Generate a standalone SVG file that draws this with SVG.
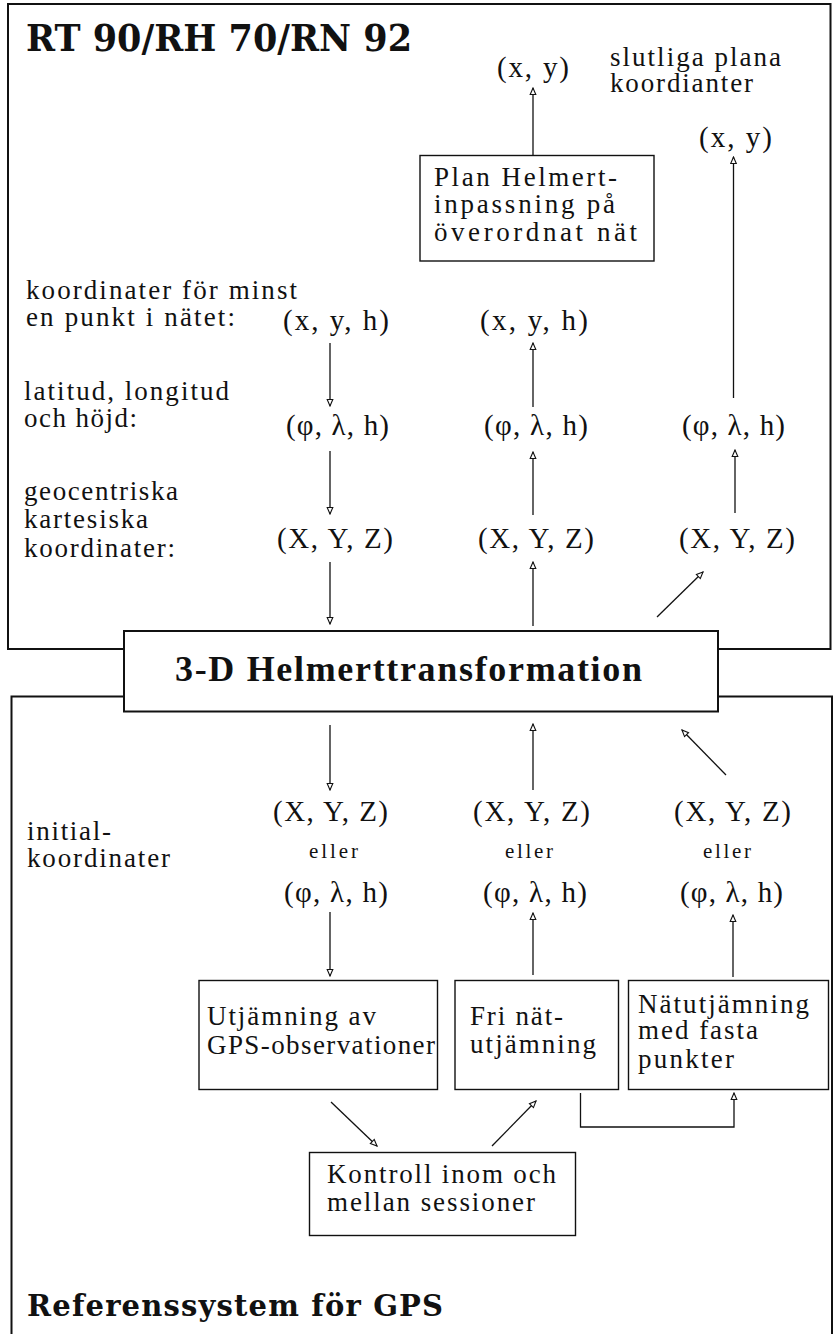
<svg xmlns="http://www.w3.org/2000/svg" width="834" height="1334" viewBox="0 0 834 1334">
  <style>
    .frame { fill: none; stroke: #111; stroke-width: 2; }
    .box { fill: #fff; stroke: #111; stroke-width: 1.4; }
    .hbox { fill: #fff; stroke: #111; stroke-width: 2; }
    .t { font-family: "Liberation Serif", "DejaVu Serif", serif; font-size: 27px; fill: #111; }
    .tup { font-family: "Liberation Serif", "DejaVu Serif", serif; font-size: 29px; fill: #111; }
    .small { font-family: "Liberation Serif", "DejaVu Serif", serif; font-size: 21px; fill: #111; }
    .title { font-family: "DejaVu Serif", "Liberation Serif", serif; font-weight: bold; font-size: 37px; fill: #111; }
    .htitle { font-family: "Liberation Serif", "DejaVu Serif", serif; font-weight: bold; font-size: 36px; fill: #111; }
    .gtitle { font-family: "DejaVu Serif", "Liberation Serif", serif; font-weight: bold; font-size: 29px; fill: #111; }
    .conn { fill: none; stroke: #111; stroke-width: 1.3; marker-end: url(#arrow); }
  </style>
  <defs>
    <marker id="arrow" viewBox="-8 -4 9 8" refX="0" refY="0" markerWidth="9" markerHeight="8" markerUnits="userSpaceOnUse" orient="auto">
      <path d="M0,0 L-6.5,-2.8 L-6.5,2.8 Z" fill="#fff" stroke="#111" stroke-width="1.1" stroke-linejoin="miter"/>
    </marker>
  </defs>

  <!-- outer frames -->
  <g id="frame-rt90">
    <rect class="frame" x="8" y="4" width="822.5" height="645"/>
    <text class="title" x="26" y="51" textLength="386" lengthAdjust="spacingAndGlyphs">RT 90/RH 70/RN 92</text>
  </g>
  <g id="frame-gps">
    <path class="frame" d="M11.5,1340 V696.5 H832 V1340"/>
    <text class="gtitle" x="27" y="1316" textLength="416" lengthAdjust="spacing">Referenssystem för GPS</text>
  </g>

  <!-- upper side labels -->
  <g id="label-slutliga">
    <text class="t" x="610" y="66" textLength="171" lengthAdjust="spacing">slutliga plana</text>
    <text class="t" x="610" y="92" textLength="143" lengthAdjust="spacing">koordianter</text>
  </g>
  <g id="label-minst">
    <text class="t" x="26" y="299" textLength="271" lengthAdjust="spacing">koordinater för minst</text>
    <text class="t" x="26" y="325.5" textLength="209" lengthAdjust="spacing">en punkt i nätet:</text>
  </g>
  <g id="label-latlong">
    <text class="t" x="24" y="400" textLength="205" lengthAdjust="spacing">latitud, longitud</text>
    <text class="t" x="24" y="426.5" textLength="113" lengthAdjust="spacing">och höjd:</text>
  </g>
  <g id="label-geocentr">
    <text class="t" x="24" y="500" textLength="154" lengthAdjust="spacing">geocentriska</text>
    <text class="t" x="24" y="528" textLength="124" lengthAdjust="spacing">kartesiska</text>
    <text class="t" x="24" y="556.5" textLength="151" lengthAdjust="spacing">koordinater:</text>
  </g>

  <!-- upper coordinate nodes -->
  <g id="xy-1"><text class="tup" x="497" y="77" textLength="72" lengthAdjust="spacing">(x, y)</text></g>
  <g id="xy-2"><text class="tup" x="699" y="147" textLength="73" lengthAdjust="spacing">(x, y)</text></g>
  <g id="plan-helmert">
    <rect class="box" x="420" y="155.5" width="234" height="105.5"/>
    <text class="t" x="434" y="185.5" textLength="183" lengthAdjust="spacing">Plan Helmert-</text>
    <text class="t" x="434" y="213" textLength="181" lengthAdjust="spacing">inpassning på</text>
    <text class="t" x="434" y="240.5" textLength="203" lengthAdjust="spacing">överordnat nät</text>
  </g>
  <g id="xyh-1"><text class="tup" x="283" y="330" textLength="106" lengthAdjust="spacing">(x, y, h)</text></g>
  <g id="xyh-2"><text class="tup" x="480" y="330" textLength="108" lengthAdjust="spacing">(x, y, h)</text></g>
  <g id="plh-1"><text class="tup" x="286" y="435" textLength="103" lengthAdjust="spacing">(φ, λ, h)</text></g>
  <g id="plh-2"><text class="tup" x="484" y="435" textLength="104" lengthAdjust="spacing">(φ, λ, h)</text></g>
  <g id="plh-3"><text class="tup" x="682" y="435" textLength="103" lengthAdjust="spacing">(φ, λ, h)</text></g>
  <g id="xyz-1"><text class="tup" x="277" y="548" textLength="116" lengthAdjust="spacing">(X, Y, Z)</text></g>
  <g id="xyz-2"><text class="tup" x="478" y="548" textLength="116" lengthAdjust="spacing">(X, Y, Z)</text></g>
  <g id="xyz-3"><text class="tup" x="679" y="548" textLength="116" lengthAdjust="spacing">(X, Y, Z)</text></g>

  <!-- central transformation -->
  <g id="helmert-3d">
    <rect class="hbox" x="124" y="631" width="594" height="80.5"/>
    <text class="htitle" x="175" y="681" textLength="467" lengthAdjust="spacing">3-D Helmerttransformation</text>
  </g>

  <!-- lower side label -->
  <g id="label-initial">
    <text class="t" x="27" y="840" textLength="84" lengthAdjust="spacing">initial-</text>
    <text class="t" x="27" y="866.5" textLength="143" lengthAdjust="spacing">koordinater</text>
  </g>

  <!-- initial coordinate nodes -->
  <g id="init-1">
    <text class="tup" x="273" y="821" textLength="115" lengthAdjust="spacing">(X, Y, Z)</text>
    <text class="small" x="309" y="858" textLength="49" lengthAdjust="spacing">eller</text>
    <text class="tup" x="284" y="901.5" textLength="104" lengthAdjust="spacing">(φ, λ, h)</text>
  </g>
  <g id="init-2">
    <text class="tup" x="473" y="821" textLength="117" lengthAdjust="spacing">(X, Y, Z)</text>
    <text class="small" x="505" y="858" textLength="48" lengthAdjust="spacing">eller</text>
    <text class="tup" x="483" y="901.5" textLength="104" lengthAdjust="spacing">(φ, λ, h)</text>
  </g>
  <g id="init-3">
    <text class="tup" x="674" y="821" textLength="117" lengthAdjust="spacing">(X, Y, Z)</text>
    <text class="small" x="703" y="858" textLength="48" lengthAdjust="spacing">eller</text>
    <text class="tup" x="680" y="901.5" textLength="103" lengthAdjust="spacing">(φ, λ, h)</text>
  </g>

  <!-- adjustment boxes -->
  <g id="utjamning-gps">
    <rect class="box" x="199" y="980.5" width="238.5" height="109"/>
    <text class="t" x="207" y="1025" textLength="169" lengthAdjust="spacing">Utjämning av</text>
    <text class="t" x="207" y="1054" textLength="228" lengthAdjust="spacing">GPS-observationer</text>
  </g>
  <g id="fri-nat">
    <rect class="box" x="455" y="980.5" width="163.5" height="109"/>
    <text class="t" x="470" y="1025" textLength="93" lengthAdjust="spacing">Fri nät-</text>
    <text class="t" x="470" y="1053" textLength="126" lengthAdjust="spacing">utjämning</text>
  </g>
  <g id="nat-fasta">
    <rect class="box" x="628.5" y="980.5" width="200" height="109"/>
    <text class="t" x="638" y="1013" textLength="171" lengthAdjust="spacing">Nätutjämning</text>
    <text class="t" x="638" y="1039" textLength="120" lengthAdjust="spacing">med fasta</text>
    <text class="t" x="638" y="1068" textLength="96" lengthAdjust="spacing">punkter</text>
  </g>
  <g id="kontroll">
    <rect class="box" x="309.5" y="1152.5" width="266" height="83"/>
    <text class="t" x="327" y="1182.5" textLength="229" lengthAdjust="spacing">Kontroll inom och</text>
    <text class="t" x="327" y="1210.5" textLength="208" lengthAdjust="spacing">mellan sessioner</text>
  </g>

  <!-- connectors -->
  <g id="connectors">
    <line class="conn" x1="533" y1="155" x2="533" y2="88"/>
    <line class="conn" x1="733.5" y1="398" x2="733.5" y2="157"/>
    <line class="conn" x1="330" y1="343" x2="330" y2="406"/>
    <line class="conn" x1="330" y1="451" x2="330" y2="514"/>
    <line class="conn" x1="330" y1="562" x2="330" y2="624"/>
    <line class="conn" x1="533" y1="407" x2="533" y2="343"/>
    <line class="conn" x1="533" y1="515" x2="533" y2="452"/>
    <line class="conn" x1="533" y1="626" x2="533" y2="562"/>
    <line class="conn" x1="735" y1="513" x2="735" y2="450"/>
    <line class="conn" x1="657" y1="617" x2="703" y2="572"/>
    <line class="conn" x1="330" y1="725" x2="330" y2="790"/>
    <line class="conn" x1="533" y1="790" x2="533" y2="724"/>
    <line class="conn" x1="726" y1="775" x2="682" y2="730"/>
    <line class="conn" x1="330" y1="912" x2="330" y2="976"/>
    <line class="conn" x1="533" y1="975" x2="533" y2="913"/>
    <line class="conn" x1="733" y1="977" x2="733" y2="915"/>
    <line class="conn" x1="331" y1="1102" x2="377" y2="1146"/>
    <line class="conn" x1="492" y1="1146" x2="536" y2="1101"/>
    <polyline class="conn" points="580.5,1093 580.5,1127 734,1127 734,1093"/>
  </g>
</svg>
